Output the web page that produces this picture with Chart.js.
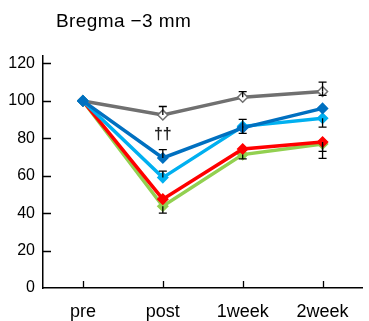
<!DOCTYPE html>
<html>
<head>
<meta charset="utf-8">
<script src="https://cdn.jsdelivr.net/npm/chart.js@4/dist/chart.umd.min.js"></script>
<style>
  html, body { margin: 0; padding: 0; background: #fff; }
  #wrap { width: 369px; height: 321px; position: relative; }
</style>
</head>
<body>
<div id="wrap"><canvas id="c"></canvas></div>
<script>
// Time points
const categories = ['pre', 'post', '1week', '2week'];
const yTicks = [0, 20, 40, 60, 80, 100, 120];
const titleText = 'Bregma \u22123 mm';
const markText = '\u2020\u2020';

// Group means (%)
const darkBlue  = [100, 69.5, 85.6, 96.0];
const lightBlue = [100, 59.0, 86.4, 90.7];
const gray      = [100, 92.5, 102.0, 105.0];
const red       = [100, 47.5, 74.3, 78.0];
const green     = [100, 43.7, 71.3, 77.0];

// Error bars (upper / lower extent, null = not drawn)
const darkBlueUp   = [null, 4.5, 4.5, null];
const darkBlueDown = [null, null, null, null];
const lightBlueUp   = [null, 3.5, null, null];
const lightBlueDown = [null, null, 3.8, 4.7];
const grayUp   = [null, 4.5, 3.0, 5.0];
const grayDown = [null, null, null, 2.0];
const redUp   = [null, null, null, null];
const redDown = [null, null, null, 5.0];
const greenUp   = [null, null, null, null];
const greenDown = [null, 3.7, 2.3, 7.7];

const FONT = "'Liberation Sans', Arial, sans-serif";

function series(data, color, fill, up, down) {
  return {
    data: data,
    borderColor: color,
    backgroundColor: fill,
    pointBackgroundColor: fill,
    pointBorderColor: color,
    pointStyle: 'rectRot',
    pointRadius: 5,
    pointBorderWidth: 1.5,
    borderWidth: 3.5,
    tension: 0,
    errUp: up,
    errDown: down
  };
}

// Draws the title, inward tick marks, error bars and the significance mark
const decorations = {
  id: 'decorations',
  afterDatasetsDraw(chart) {
    const ctx = chart.ctx;
    const xs = chart.scales.x, ys = chart.scales.y;
    ctx.save();
    ctx.strokeStyle = '#000';
    ctx.lineWidth = 1.3;
    chart.data.datasets.forEach(ds => {
      ds.data.forEach((v, i) => {
        const x = xs.getPixelForValue(i);
        const y0 = ys.getPixelForValue(v);
        [[ds.errUp, 1], [ds.errDown, -1]].forEach(([arr, sgn]) => {
          if (!arr || arr[i] == null) return;
          const y1 = ys.getPixelForValue(v + sgn * arr[i]);
          ctx.beginPath();
          ctx.moveTo(x, y0); ctx.lineTo(x, y1);
          ctx.moveTo(x - 4, y1); ctx.lineTo(x + 4, y1);
          ctx.stroke();
        });
      });
    });
    ctx.restore();
  },
  afterDraw(chart) {
    const ctx = chart.ctx;
    const xs = chart.scales.x, ys = chart.scales.y;
    const area = chart.chartArea;
    ctx.save();
    ctx.strokeStyle = '#000';
    ctx.lineWidth = 1.3;
    ctx.beginPath();
    yTicks.forEach(t => {
      const y = Math.round(ys.getPixelForValue(t)) + 0.5;
      if (t === 0) return;
      ctx.moveTo(area.left, y); ctx.lineTo(area.left + 8, y);
    });
    categories.forEach((c, i) => {
      const x = Math.round(xs.getPixelForValue(i)) + 0.5;
      ctx.moveTo(x, area.bottom); ctx.lineTo(x, area.bottom - 7);
    });
    ctx.stroke();

    ctx.fillStyle = '#000';
    ctx.font = '19px ' + FONT;
    ctx.letterSpacing = '0.4px';
    ctx.textAlign = 'left';
    ctx.textBaseline = 'alphabetic';
    ctx.fillText(titleText, 56, 27);

    ctx.fillStyle = '#222';
    ctx.font = 'bold 16px ' + FONT;
    ctx.letterSpacing = '0px';
    ctx.textAlign = 'center';
    ctx.textBaseline = 'middle';
    ctx.fillText(markText, xs.getPixelForValue(1), ys.getPixelForValue(82));
    ctx.restore();
  }
};

new Chart(document.getElementById('c'), {
  type: 'line',
  data: {
    labels: categories,
    datasets: [
      series(darkBlue, '#0070C0', '#0070C0', darkBlueUp, darkBlueDown),
      series(lightBlue, '#00B0F0', '#00B0F0', lightBlueUp, lightBlueDown),
      series(gray, '#707070', '#ffffff', grayUp, grayDown),
      series(red, '#FF0000', '#FF0000', redUp, redDown),
      series(green, '#92D050', '#92D050', greenUp, greenDown)
    ]
  },
  options: {
    responsive: true,
    maintainAspectRatio: false,
    animation: false,
    devicePixelRatio: 1,
    layout: { padding: { top: 56, right: 0, left: 0, bottom: 0 } },
    plugins: { legend: { display: false }, tooltip: { enabled: false }, title: { display: false } },
    scales: {
      x: {
        type: 'category',
        offset: true,
        grid: { display: false, drawTicks: false },
        border: { display: true, color: '#000', width: 1.5 },
        ticks: { color: '#000', font: { family: FONT, size: 18 }, padding: 13, maxRotation: 0 },
        afterFit(s) { s.height = 33; }
      },
      y: {
        min: 0,
        max: 124,
        grid: { display: false, drawTicks: false },
        border: { display: true, color: '#000', width: 1.5 },
        afterBuildTicks(s) { s.ticks = yTicks.map(v => ({ value: v })); },
        ticks: { color: '#000', font: { family: FONT, size: 16 }, padding: 8 },
        afterFit(s) { s.width = 43; }
      }
    }
  },
  plugins: [decorations]
});
</script>
</body>
</html>
